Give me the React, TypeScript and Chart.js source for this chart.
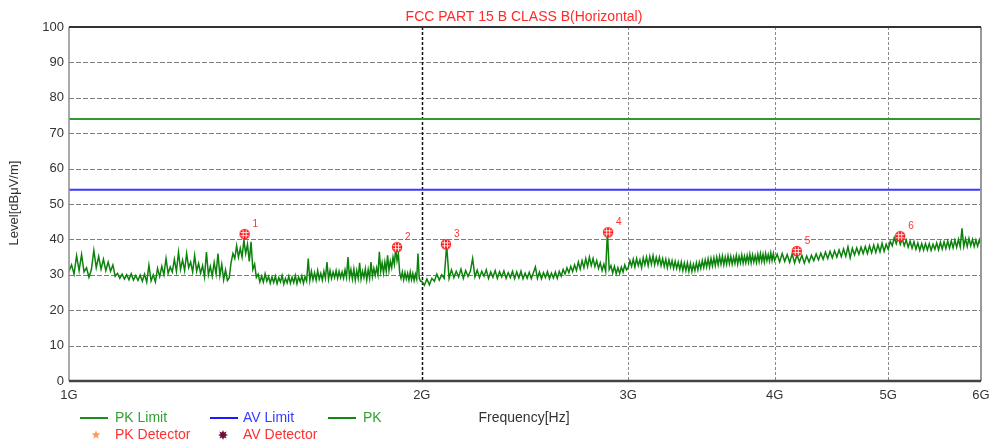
import React, { useEffect, useRef } from 'react';
import { Chart, registerables } from 'chart.js';

Chart.register(...registerables);

const chartTitle = 'FCC PART 15 B CLASS B(Horizontal)';
const xAxisTitle = 'Frequency[Hz]';
const yAxisTitle = 'Level[dBμV/m]';

// frequency axis (MHz) and its tick labels
const xTickValues = [1000, 2000, 3000, 4000, 5000, 6000];
const xTickLabels = ['1G', '2G', '3G', '4G', '5G', '6G'];
const yMin = 0;
const yMax = 100;
const yStep = 10;

// limit lines (dBμV/m)
const limitFreq = [1000, 6000];
const pkLimitLevel = [74, 74];
const avLimitLevel = [54, 54];

// PK trace, 1–2 GHz (5 MHz steps)
const freq1 = [
  1000, 1005, 1010, 1015, 1020, 1025, 1030, 1035, 1040, 1045,
  1050, 1055, 1060, 1065, 1070, 1075, 1080, 1085, 1090, 1095,
  1100, 1105, 1110, 1115, 1120, 1125, 1130, 1135, 1140, 1145,
  1150, 1155, 1160, 1165, 1170, 1175, 1180, 1185, 1190, 1195,
  1200, 1205, 1210, 1215, 1220, 1225, 1230, 1235, 1240, 1245,
  1250, 1255, 1260, 1265, 1270, 1275, 1280, 1285, 1290, 1295,
  1300, 1305, 1310, 1315, 1320, 1325, 1330, 1335, 1340, 1345,
  1350, 1355, 1360, 1365, 1370, 1375, 1380, 1385, 1390, 1395,
  1400, 1405, 1410, 1415, 1420, 1425, 1430, 1435, 1440, 1445,
  1450, 1455, 1460, 1465, 1470, 1475, 1480, 1485, 1490, 1495,
  1500, 1505, 1510, 1515, 1520, 1525, 1530, 1535, 1540, 1545,
  1550, 1555, 1560, 1565, 1570, 1575, 1580, 1585, 1590, 1595,
  1600, 1605, 1610, 1615, 1620, 1625, 1630, 1635, 1640, 1645,
  1650, 1655, 1660, 1665, 1670, 1675, 1680, 1685, 1690, 1695,
  1700, 1705, 1710, 1715, 1720, 1725, 1730, 1735, 1740, 1745,
  1750, 1755, 1760, 1765, 1770, 1775, 1780, 1785, 1790, 1795,
  1800, 1805, 1810, 1815, 1820, 1825, 1830, 1835, 1840, 1845,
  1850, 1855, 1860, 1865, 1870, 1875, 1880, 1885, 1890, 1895,
  1900, 1905, 1910, 1915, 1920, 1925, 1930, 1935, 1940, 1945,
  1950, 1955, 1960, 1965, 1970, 1975, 1980, 1985, 1990, 1995,
];
const level1 = [
  31.0, 32.8, 30.2, 35.4, 31.2, 35.7, 30.8, 32.0, 29.3, 31.5,
  36.9, 32.0, 35.2, 31.6, 34.4, 31.2, 33.6, 31.0, 32.8, 29.6,
  30.4, 29.0, 30.2, 28.8, 30.0, 28.6, 30.3, 28.5, 29.8, 28.4,
  29.9, 28.2, 30.2, 27.9, 32.7, 28.3, 30.0, 28.0, 31.8, 29.5,
  32.4, 30.0, 34.6, 30.4, 32.2, 30.8, 34.4, 31.0, 36.4, 31.5,
  34.2, 31.2, 36.0, 32.0, 33.6, 30.8, 35.5, 31.0, 33.2, 30.4,
  32.6, 29.4, 36.4, 30.0, 32.4, 29.6, 33.5, 30.2, 36.0, 29.8,
  33.0, 28.6, 31.4, 28.4, 29.2, 33.5, 36.0, 34.6, 38.2, 35.0,
  37.5, 35.0, 39.8, 36.0, 38.6, 33.8, 39.3, 31.5, 33.0, 29.3,
  30.2, 28.0, 29.6, 27.9, 30.3, 28.2, 29.5, 27.6, 29.4, 27.8,
  29.6, 27.5, 29.2, 28.0, 29.8, 27.4, 29.0, 27.7, 29.6, 27.6,
  29.3, 27.8, 29.8, 27.5, 29.4, 28.0, 29.7, 27.6, 29.5, 28.2,
  34.6, 28.4, 31.0, 28.6, 30.6, 28.5, 31.2, 28.8, 30.4, 28.5,
  31.0, 29.0, 33.6, 28.8, 31.2, 29.0, 30.8, 29.2, 31.2, 29.0,
  31.0, 29.2, 30.8, 29.0, 31.4, 29.3, 35.0, 29.2, 31.5, 28.8,
  31.7, 28.5, 31.2, 29.0, 33.4, 28.8, 31.0, 29.2, 31.7, 28.6,
  31.5, 29.0, 33.6, 29.5, 31.8, 29.8, 32.0, 30.0, 36.5, 31.0,
  33.4, 30.5, 33.6, 31.0, 35.5, 31.2, 33.8, 32.0, 35.0, 33.0,
  37.4, 34.0, 36.0, 30.5, 29.0, 30.8, 28.6, 30.6, 28.8, 30.4,
  28.5, 30.8, 28.6, 30.4, 28.4, 30.2, 28.8, 36.0, 29.0, 28.2,
];

// PK trace, 2–3 GHz (10 MHz steps)
const freq2 = [
  2000, 2010, 2020, 2030, 2040, 2050, 2060, 2070, 2080, 2090,
  2100, 2110, 2120, 2130, 2140, 2150, 2160, 2170, 2180, 2190,
  2200, 2210, 2220, 2230, 2240, 2250, 2260, 2270, 2280, 2290,
  2300, 2310, 2320, 2330, 2340, 2350, 2360, 2370, 2380, 2390,
  2400, 2410, 2420, 2430, 2440, 2450, 2460, 2470, 2480, 2490,
  2500, 2510, 2520, 2530, 2540, 2550, 2560, 2570, 2580, 2590,
  2600, 2610, 2620, 2630, 2640, 2650, 2660, 2670, 2680, 2690,
  2700, 2710, 2720, 2730, 2740, 2750, 2760, 2770, 2780, 2790,
  2800, 2810, 2820, 2830, 2840, 2850, 2860, 2870, 2880, 2890,
  2900, 2910, 2920, 2930, 2940, 2950, 2960, 2970, 2980, 2990,
];
const level2 = [
  28.2, 27.0, 28.8, 27.2, 29.0, 28.2, 30.2, 28.5, 30.0, 29.0,
  38.4, 29.0, 31.4, 29.2, 31.0, 29.4, 31.6, 29.0, 31.2, 29.5,
  31.0, 34.6, 29.4, 31.3, 29.2, 31.0, 29.6, 31.4, 29.0, 30.8,
  29.3, 31.2, 29.0, 30.9, 29.4, 31.1, 29.0, 30.6, 29.2, 31.0,
  28.9, 30.8, 29.1, 31.0, 28.9, 30.5, 29.0, 30.7, 28.9, 30.6,
  32.2, 29.0, 30.8, 28.9, 30.6, 29.2, 30.9, 28.9, 30.5, 29.1,
  30.8, 29.0, 31.0, 29.6, 31.5, 30.2, 32.0, 30.6, 32.4, 30.9,
  32.8, 31.2, 33.6, 31.6, 34.0, 32.0, 34.6, 32.3, 35.0, 32.6,
  34.6, 32.3, 34.0, 31.8, 33.4, 31.2, 33.0, 31.0, 42.2, 31.5,
  32.6, 30.5, 32.4, 30.3, 32.0, 30.4, 32.2, 30.8, 32.8, 31.4,
];

// PK trace, 3–4 GHz (10 MHz steps)
const freq3 = [
  3000, 3010, 3020, 3030, 3040, 3050, 3060, 3070, 3080, 3090,
  3100, 3110, 3120, 3130, 3140, 3150, 3160, 3170, 3180, 3190,
  3200, 3210, 3220, 3230, 3240, 3250, 3260, 3270, 3280, 3290,
  3300, 3310, 3320, 3330, 3340, 3350, 3360, 3370, 3380, 3390,
  3400, 3410, 3420, 3430, 3440, 3450, 3460, 3470, 3480, 3490,
  3500, 3510, 3520, 3530, 3540, 3550, 3560, 3570, 3580, 3590,
  3600, 3610, 3620, 3630, 3640, 3650, 3660, 3670, 3680, 3690,
  3700, 3710, 3720, 3730, 3740, 3750, 3760, 3770, 3780, 3790,
  3800, 3810, 3820, 3830, 3840, 3850, 3860, 3870, 3880, 3890,
  3900, 3910, 3920, 3930, 3940, 3950, 3960, 3970, 3980, 3990,
];
const level3 = [
  32.0, 34.0, 32.4, 34.4, 32.2, 34.6, 32.6, 34.2, 32.0, 34.8,
  32.8, 35.0, 32.6, 35.2, 33.0, 35.4, 32.8, 34.9, 33.0, 35.0,
  32.6, 34.6, 32.4, 34.4, 32.0, 34.2, 32.2, 34.0, 31.8, 33.8,
  31.8, 33.6, 31.5, 33.6, 31.2, 33.3, 31.2, 33.4, 31.0, 33.2,
  30.9, 33.0, 31.2, 33.4, 31.4, 33.6, 31.8, 34.0, 32.0, 34.2,
  32.2, 34.5, 32.2, 34.6, 32.5, 34.8, 32.6, 35.0, 32.8, 35.2,
  33.0, 35.3, 32.8, 35.0, 33.0, 35.4, 33.1, 35.2, 33.0, 35.0,
  33.2, 35.5, 33.0, 35.2, 33.4, 35.6, 33.3, 35.3, 33.4, 35.5,
  33.5, 35.8, 33.4, 35.6, 33.6, 35.4, 33.5, 35.8, 33.7, 36.0,
  33.8, 35.8, 33.6, 36.0, 34.0, 35.7, 33.9, 36.2, 34.0, 36.0,
];

// PK trace, 4–6 GHz (20 MHz steps)
const freq4 = [
  4000, 4020, 4040, 4060, 4080, 4100, 4120, 4140, 4160, 4180,
  4200, 4220, 4240, 4260, 4280, 4300, 4320, 4340, 4360, 4380,
  4400, 4420, 4440, 4460, 4480, 4500, 4520, 4540, 4560, 4580,
  4600, 4620, 4640, 4660, 4680, 4700, 4720, 4740, 4760, 4780,
  4800, 4820, 4840, 4860, 4880, 4900, 4920, 4940, 4960, 4980,
  5000, 5020, 5040, 5060, 5080, 5100, 5120, 5140, 5160, 5180,
  5200, 5220, 5240, 5260, 5280, 5300, 5320, 5340, 5360, 5380,
  5400, 5420, 5440, 5460, 5480, 5500, 5520, 5540, 5560, 5580,
  5600, 5620, 5640, 5660, 5680, 5700, 5720, 5740, 5760, 5780,
  5800, 5820, 5840, 5860, 5880, 5900, 5920, 5940, 5960, 5980,
  6000,
];
const level4 = [
  34.0, 35.8, 33.6, 36.0, 33.8, 35.7, 33.5, 35.9, 33.4, 35.6,
  33.6, 35.5, 33.3, 35.3, 33.6, 35.5, 34.0, 35.9, 34.2, 36.1,
  34.4, 36.4, 34.6, 36.6, 34.8, 36.8, 35.0, 37.0, 35.1, 37.3,
  35.2, 37.9, 34.8, 37.5, 35.6, 37.6, 35.8, 37.8, 36.0, 38.0,
  36.0, 38.2, 36.2, 38.4, 36.3, 38.5, 36.5, 38.9, 36.6, 38.6,
  37.2, 39.4, 38.2, 40.5, 38.8, 40.8, 38.6, 40.2, 38.2, 39.8,
  37.8, 39.5, 37.5, 39.3, 37.2, 39.0, 36.9, 38.8, 37.0, 38.8,
  37.0, 38.8, 36.9, 38.6, 37.2, 39.0, 37.1, 39.2, 37.3, 39.3,
  37.4, 39.5, 37.5, 39.6, 37.6, 39.8, 37.8, 40.0, 37.9, 43.1,
  38.0, 40.2, 38.0, 40.3, 38.2, 40.0, 38.0, 39.8, 38.1, 39.9,
  38.3,
];

// detector markers
const markerFreq = [1412, 1905, 2097, 2884, 4178, 5119];
const markerLevel = [41.5, 37.8, 38.6, 42.0, 36.7, 40.9];
const markerLabels = ['1', '2', '3', '4', '5', '6'];

const FONT = "'Liberation Sans', Arial, sans-serif";

function makeMarkerImage(): HTMLCanvasElement {
  const c = document.createElement('canvas');
  c.width = 12;
  c.height = 12;
  const g = c.getContext('2d')!;
  g.fillStyle = '#ff1a1a';
  g.beginPath();
  g.arc(6, 6, 5.2, 0, Math.PI * 2);
  g.fill();
  g.strokeStyle = 'rgba(255,255,255,0.85)';
  g.lineWidth = 1;
  g.beginPath();
  g.moveTo(2, 4.5); g.lineTo(10, 4.5);
  g.moveTo(2, 7.5); g.lineTo(10, 7.5);
  g.moveTo(4.5, 2); g.lineTo(4.5, 10);
  g.moveTo(7.5, 2); g.lineTo(7.5, 10);
  g.stroke();
  return c;
}

function drawStar(ctx: CanvasRenderingContext2D, cx: number, cy: number, r: number, spikes: number, inner: number) {
  ctx.beginPath();
  for (let i = 0; i < spikes * 2; i++) {
    const rad = i % 2 === 0 ? r : r * inner;
    const ang = -Math.PI / 2 + (i * Math.PI) / spikes;
    const px = cx + Math.cos(ang) * rad;
    const py = cy + Math.sin(ang) * rad;
    if (i === 0) ctx.moveTo(px, py);
    else ctx.lineTo(px, py);
  }
  ctx.closePath();
}

const decorPlugin = {
  id: 'decor',
  beforeDatasetsDraw(chart: any) {
    const { ctx, chartArea: a, scales } = chart;
    const x = scales.x;
    const y = scales.y;
    ctx.save();
    ctx.lineWidth = 1;
    ctx.setLineDash([5, 2]);
    ctx.strokeStyle = '#7c7c7c';
    for (const t of y.ticks) {
      if (t.value <= yMin || t.value >= yMax) continue;
      const py = Math.round(y.getPixelForValue(t.value)) + 0.5;
      ctx.beginPath();
      ctx.moveTo(a.left, py);
      ctx.lineTo(a.right, py);
      ctx.stroke();
    }
    ctx.setLineDash([3, 2]);
    for (const t of x.ticks) {
      if (t.value <= xTickValues[0] || t.value >= xTickValues[xTickValues.length - 1]) continue;
      const px = Math.round(x.getPixelForValue(t.value)) + 0.5;
      const major = t.value === 2000;
      ctx.strokeStyle = major ? '#111111' : '#8a8a8a';
      ctx.lineWidth = major ? 1.5 : 1;
      ctx.beginPath();
      ctx.moveTo(px, a.top);
      ctx.lineTo(px, a.bottom);
      ctx.stroke();
    }
    ctx.restore();
  },
  afterDatasetsDraw(chart: any) {
    const { ctx, chartArea: a } = chart;
    ctx.save();
    ctx.setLineDash([]);
    ctx.strokeStyle = '#8c8c8c';
    ctx.lineWidth = 1.5;
    ctx.beginPath();
    ctx.moveTo(a.left, a.top);
    ctx.lineTo(a.left, a.bottom);
    ctx.stroke();
    ctx.strokeStyle = '#999999';
    ctx.lineWidth = 2;
    ctx.beginPath();
    ctx.moveTo(a.right, a.top);
    ctx.lineTo(a.right, a.bottom);
    ctx.stroke();
    ctx.strokeStyle = '#333333';
    ctx.lineWidth = 2;
    ctx.beginPath();
    ctx.moveTo(a.left, a.top);
    ctx.lineTo(a.right, a.top);
    ctx.stroke();
    ctx.strokeStyle = '#444444';
    ctx.lineWidth = 2.5;
    ctx.beginPath();
    ctx.moveTo(a.left, a.bottom);
    ctx.lineTo(a.right, a.bottom);
    ctx.stroke();
    const meta = chart.getDatasetMeta(0);
    ctx.fillStyle = '#ff3333';
    ctx.font = `10px ${FONT}`;
    ctx.textAlign = 'left';
    ctx.textBaseline = 'middle';
    meta.data.forEach((p: any, i: number) => {
      ctx.fillText(markerLabels[i], p.x + 8, p.y - 10);
    });
    ctx.restore();
  },
  afterDraw(chart: any) {
    const { ctx } = chart;
    ctx.save();
    ctx.fillStyle = '#ff2a2a';
    ctx.font = `14px ${FONT}`;
    ctx.textAlign = 'center';
    ctx.textBaseline = 'middle';
    ctx.fillText(chartTitle, 524, 17);
    ctx.fillStyle = '#333333';
    ctx.fillText(xAxisTitle, 524, 418);
    ctx.save();
    ctx.translate(14, 203);
    ctx.rotate(-Math.PI / 2);
    ctx.font = `13px ${FONT}`;
    ctx.fillText(yAxisTitle, 0, 0);
    ctx.restore();

    ctx.font = `14px ${FONT}`;
    ctx.textAlign = 'left';
    const row1 = 418;
    const row2 = 435;
    const lineItem = (x0: number, color: string, textColor: string, label: string, tx: number) => {
      ctx.strokeStyle = color;
      ctx.lineWidth = 2;
      ctx.beginPath();
      ctx.moveTo(x0, row1);
      ctx.lineTo(x0 + 28, row1);
      ctx.stroke();
      ctx.fillStyle = textColor;
      ctx.fillText(label, tx, row1);
    };
    lineItem(80, '#1e8c1e', '#33a033', 'PK Limit', 115);
    lineItem(210, '#1a1aff', '#3a3aff', 'AV Limit', 243);
    lineItem(328, '#128a12', '#33a033', 'PK', 363);

    ctx.fillStyle = '#ff9a5a';
    drawStar(ctx, 96, row2, 4.5, 5, 0.45);
    ctx.fill();
    ctx.fillStyle = '#ff3030';
    ctx.fillText('PK Detector', 115, row2);

    ctx.fillStyle = '#6e0f3a';
    drawStar(ctx, 223, row2, 5, 8, 0.55);
    ctx.fill();
    ctx.fillStyle = '#ff3030';
    ctx.fillText('AV Detector', 243, row2);
    ctx.restore();
  },
};

export default function App() {
  const canvasRef = useRef<HTMLCanvasElement | null>(null);

  useEffect(() => {
    document.body.style.margin = '0';
    const canvas = canvasRef.current;
    if (!canvas) return;

    const toPoints = (fs: number[], ls: number[]) => fs.map((f, i) => ({ x: f, y: ls[i] }));
    const pkTrace = [
      ...toPoints(freq1, level1),
      ...toPoints(freq2, level2),
      ...toPoints(freq3, level3),
      ...toPoints(freq4, level4),
    ];
    const markerImg = makeMarkerImage();

    const chart = new Chart(canvas, {
      type: 'line',
      data: {
        datasets: [
          {
            label: 'Markers',
            data: toPoints(markerFreq, markerLevel),
            showLine: false,
            pointStyle: markerImg as any,
            pointRadius: 6,
            order: 0,
          },
          {
            label: 'PK',
            data: pkTrace,
            borderColor: '#0b820b',
            borderWidth: 1.5,
            pointRadius: 0,
            tension: 0,
            order: 1,
          },
          {
            label: 'PK Limit',
            data: toPoints(limitFreq, pkLimitLevel),
            borderColor: '#2f9a2f',
            borderWidth: 2,
            pointRadius: 0,
            order: 2,
          },
          {
            label: 'AV Limit',
            data: toPoints(limitFreq, avLimitLevel),
            borderColor: '#3838ff',
            borderWidth: 2,
            pointRadius: 0,
            order: 2,
          },
        ],
      },
      options: {
        responsive: false,
        animation: false,
        events: [],
        layout: { padding: { left: 0, right: 11, top: 27, bottom: 0 } },
        plugins: {
          legend: { display: false },
          title: { display: false },
          tooltip: { enabled: false },
        },
        scales: {
          x: {
            type: 'logarithmic',
            min: xTickValues[0],
            max: xTickValues[xTickValues.length - 1],
            grid: { display: false, drawTicks: false },
            border: { display: false },
            afterBuildTicks: (scale: any) => {
              scale.ticks = xTickValues.map((v) => ({ value: v }));
            },
            afterFit: (scale: any) => {
              scale.height = 63;
              scale.paddingLeft = 0;
              scale.paddingRight = 0;
            },
            ticks: {
              autoSkip: false,
              maxRotation: 0,
              padding: 7,
              color: '#333333',
              font: { family: FONT, size: 13 },
              callback: (_v: any, i: number) => xTickLabels[i],
            },
          },
          y: {
            type: 'linear',
            min: yMin,
            max: yMax,
            grid: { display: false, drawTicks: false },
            border: { display: false },
            afterFit: (scale: any) => {
              scale.width = 69;
              scale.paddingTop = 0;
              scale.paddingBottom = 0;
            },
            ticks: {
              stepSize: yStep,
              padding: 5,
              color: '#333333',
              font: { family: FONT, size: 13 },
            },
          },
        },
      },
      plugins: [decorPlugin],
    });

    return () => chart.destroy();
  }, []);

  return (
    <div style={{ width: 992, height: 444, position: 'relative' }}>
      <canvas ref={canvasRef} width={992} height={444} style={{ display: 'block' }} />
    </div>
  );
}
